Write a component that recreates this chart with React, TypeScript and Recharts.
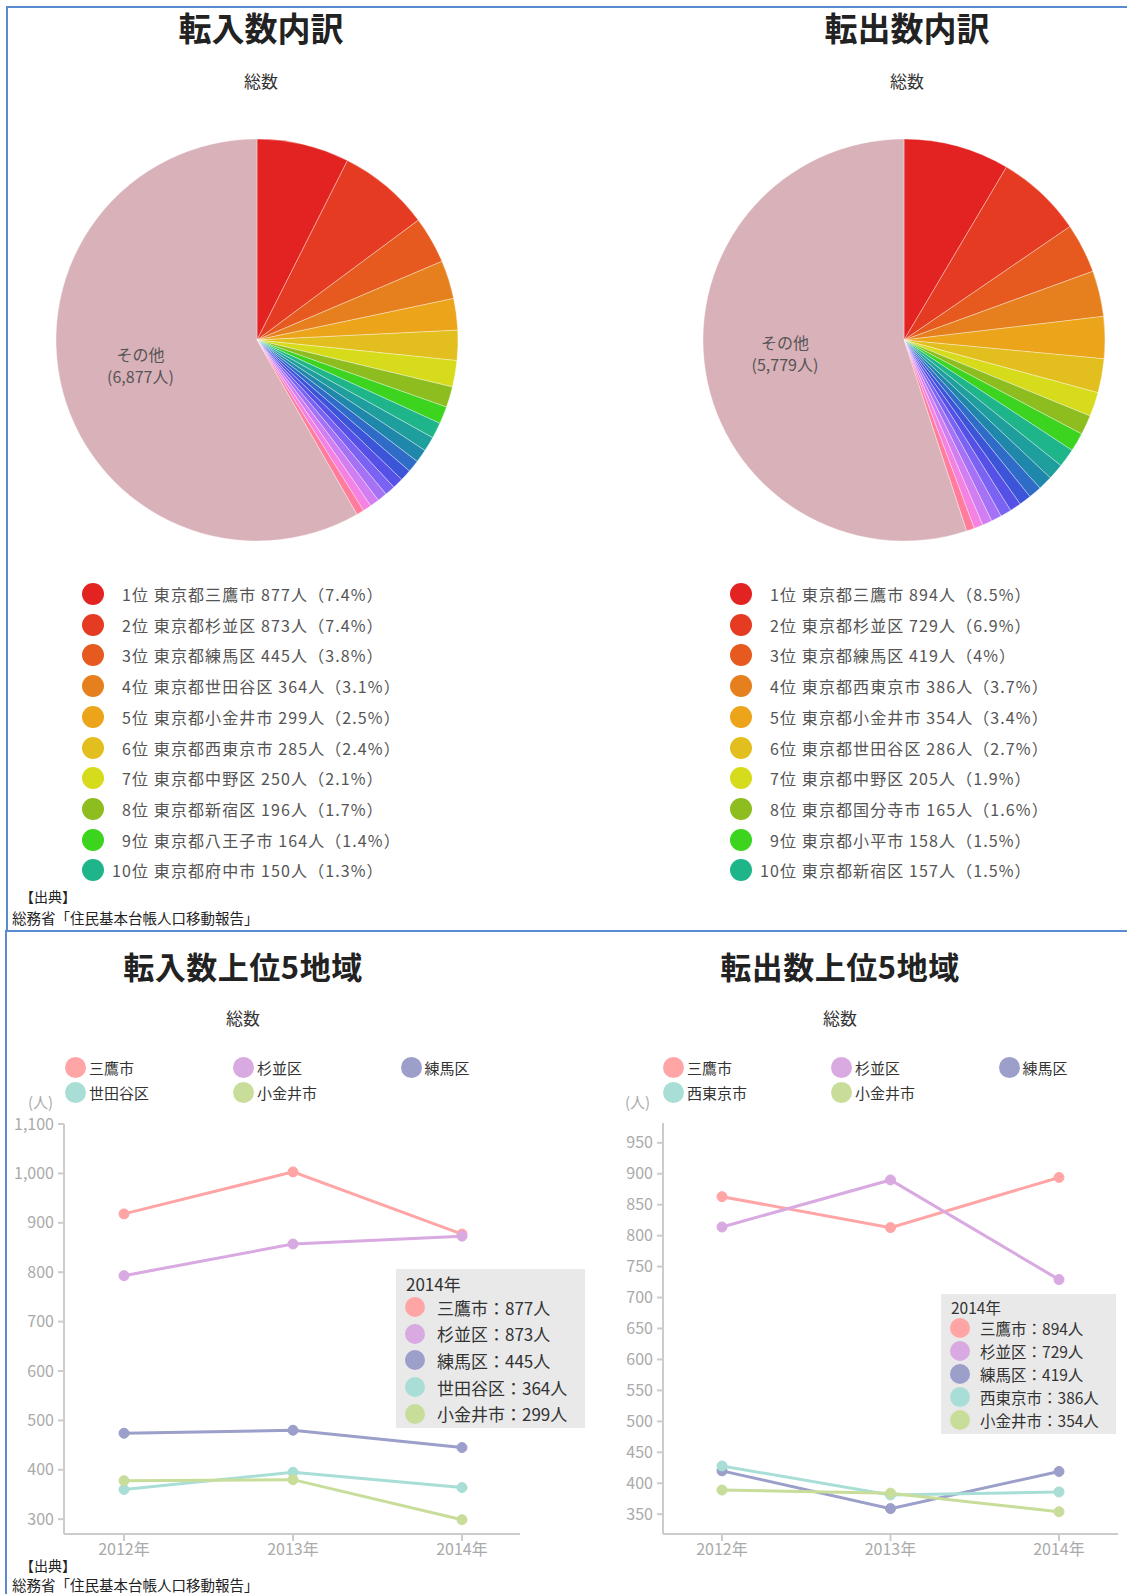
import React from "react";
import { PieChart, Pie, Cell, LineChart, Line, XAxis, YAxis } from "recharts";

const FONT = '"Noto Sans CJK JP", "Noto Sans", sans-serif';

// 転入数内訳
const inNames = ["東京都三鷹市", "東京都杉並区", "東京都練馬区", "東京都世田谷区", "東京都小金井市", "東京都西東京市", "東京都中野区", "東京都新宿区", "東京都八王子市", "東京都府中市"];
const inValues = [877, 873, 445, 364, 299, 285, 250, 196, 164, 150];
const inShares = ["7.4", "7.4", "3.8", "3.1", "2.5", "2.4", "2.1", "1.7", "1.4", "1.3"];
const inMinor = [140, 125, 115, 108, 102, 98, 92, 88, 80, 72];
const inOther = 6877;

// 転出数内訳
const outNames = ["東京都三鷹市", "東京都杉並区", "東京都練馬区", "東京都西東京市", "東京都小金井市", "東京都世田谷区", "東京都中野区", "東京都国分寺市", "東京都小平市", "東京都新宿区"];
const outValues = [894, 729, 419, 386, 354, 286, 205, 165, 158, 157];
const outShares = ["8.5", "6.9", "4", "3.7", "3.4", "2.7", "1.9", "1.6", "1.5", "1.5"];
const outMinor = [135, 120, 110, 102, 96, 92, 88, 82, 75, 68];
const outOther = 5779;

const sliceColors = [
  "#e32222", "#e53b22", "#e65a20", "#e6801e", "#eca41a", "#e2bf1f", "#d6dc1c", "#8dbd1e", "#3dd420", "#1fb58a",
  "#1e9e9c", "#1f87aa", "#2e6cc8", "#3c55d8", "#5550e6", "#7a62f2", "#a572f6", "#d07ef2", "#f482e2", "#ff7c9c",
];
const otherColor = "#d9b1b9";

// 上位5地域 推移
const years = ["2012年", "2013年", "2014年"];
const inSeriesNames = ["三鷹市", "杉並区", "練馬区", "世田谷区", "小金井市"];
const inMitaka = [918, 1003, 877];
const inSuginami = [793, 857, 873];
const inNerima = [474, 480, 445];
const inSetagaya = [360, 395, 364];
const inKoganei = [378, 380, 299];
const inTicks = [300, 400, 500, 600, 700, 800, 900, 1000, 1100];

const outSeriesNames = ["三鷹市", "杉並区", "練馬区", "西東京市", "小金井市"];
const outMitaka = [863, 813, 894];
const outSuginami = [814, 890, 729];
const outNerima = [420, 359, 419];
const outNishitokyo = [428, 381, 386];
const outKoganei = [389, 384, 354];
const outTicks = [350, 400, 450, 500, 550, 600, 650, 700, 750, 800, 850, 900, 950];

const lineColors = ["#ffa5a5", "#d9a9e1", "#9b9fc9", "#a9ded6", "#c9dd9a"];

const pieRows = (names: string[], values: number[], minor: number[], other: number) => [
  ...names.map((n, i) => ({ name: n, value: values[i] })),
  ...minor.map((v, i) => ({ name: `${i + 11}位`, value: v })),
  { name: "その他", value: other },
];

const lineRows = (series: number[][]) =>
  years.map((y, i) => ({ year: y, s0: series[0][i], s1: series[1][i], s2: series[2][i], s3: series[3][i], s4: series[4][i] }));

const abs = (left: number, top: number, extra: React.CSSProperties = {}): React.CSSProperties => ({
  position: "absolute",
  left,
  top,
  ...extra,
});

function CenterText({ x, y, size, bold, color, spacing, children }: { x: number; y: number; size: number; bold?: boolean; color?: string; spacing?: number; children: React.ReactNode }) {
  return (
    <div style={{ position: "absolute", left: x - 200, top: y - size * 0.7, width: 400, textAlign: "center", fontSize: size, fontWeight: bold ? 700 : 400, color: color || "#222", lineHeight: `${size * 1.4}px`, letterSpacing: spacing || 0, whiteSpace: "nowrap" }}>
      {children}
    </div>
  );
}

function PieBlock({ left, cx, rows }: { left: number; cx: number; rows: { name: string; value: number }[] }) {
  const renderLabel = (p: any) => {
    if (p.name !== "その他") return null;
    const R = Math.PI / 180;
    const r = p.outerRadius * 0.6;
    const x = p.cx + r * Math.cos(-p.midAngle * R);
    const y = p.cy + r * Math.sin(-p.midAngle * R);
    return (
      <text x={x} y={y} textAnchor="middle" fill="#555" fontSize={16} fontFamily={FONT}>
        <tspan x={x} dy={-10}>その他</tspan>
        <tspan x={x} dy={22}>({p.value.toLocaleString("en-US")}人)</tspan>
      </text>
    );
  };
  return (
    <div style={abs(left, 0)}>
      <PieChart width={560} height={560} margin={{ top: 0, right: 0, bottom: 0, left: 0 }}>
        <Pie
          data={rows}
          dataKey="value"
          nameKey="name"
          cx={cx}
          cy={340}
          outerRadius={201}
          startAngle={90}
          endAngle={-270}
          stroke="rgba(255,255,255,0.35)"
          strokeWidth={1}
          label={renderLabel}
          labelLine={false}
          isAnimationActive={false}
        >
          {rows.map((r, i) => (
            <Cell key={i} fill={r.name === "その他" ? otherColor : sliceColors[i]} />
          ))}
        </Pie>
      </PieChart>
    </div>
  );
}

function PieLegend({ x, names, values, shares }: { x: number; names: string[]; values: number[]; shares: string[] }) {
  return (
    <>
      {names.map((n, i) => {
        const cy = 594 + i * 30.7;
        return (
          <div key={i} style={abs(x - 11, cy - 12, { height: 24, display: "flex", alignItems: "center", fontSize: 16, color: "#555", letterSpacing: 1.1, whiteSpace: "nowrap" })}>
            <span style={{ width: 22, height: 22, borderRadius: 11, background: sliceColors[i], display: "inline-block" }} />
            <span style={{ width: 28, textAlign: "right", display: "inline-block" }}>{i + 1}</span>
            <span>位 {n} {values[i]}人（{shares[i]}%）</span>
          </div>
        );
      })}
    </>
  );
}

function LineLegend({ x0, names }: { x0: number; names: string[] }) {
  const cols = [0, 168, 335.5];
  return (
    <>
      {names.map((n, i) => {
        const cx = x0 + cols[i % 3];
        const cy = i < 3 ? 1067 : 1092.5;
        return (
          <div key={i} style={abs(cx - 10, cy - 11, { height: 22, display: "flex", alignItems: "center", fontSize: 15, color: "#333", whiteSpace: "nowrap" })}>
            <span style={{ width: 21, height: 21, borderRadius: 11, background: lineColors[i], display: "inline-block", marginRight: 3 }} />
            <span>{n}</span>
          </div>
        );
      })}
    </>
  );
}

function LineBlock({ left, width, marginTop, marginRight, padL, padR, domain, ticks, data }: { left: number; width: number; marginTop: number; marginRight: number; padL: number; padR: number; domain: [number, number]; ticks: number[]; data: any[] }) {
  return (
    <div style={abs(left, 1100)}>
      <LineChart width={width} height={470} data={data} margin={{ top: marginTop, right: marginRight, bottom: 6, left: 8 }}>
        <XAxis
          dataKey="year"
          padding={{ left: padL, right: padR }}
          axisLine={{ stroke: "#ccc", strokeWidth: 2 }}
          tickLine={{ stroke: "#ccc", strokeWidth: 2 }}
          tickSize={7}
          tickMargin={3}
          tick={{ fill: "#aaa", fontSize: 16, fontFamily: FONT }}
          height={30}
        />
        <YAxis
          type="number"
          domain={domain}
          ticks={ticks}
          allowDataOverflow
          width={56}
          axisLine={{ stroke: "#ccc", strokeWidth: 2 }}
          tickLine={{ stroke: "#ccc", strokeWidth: 2 }}
          tickSize={6}
          tickMargin={4}
          tickFormatter={(v: number) => v.toLocaleString("en-US")}
          tick={{ fill: "#aaa", fontSize: 16, fontFamily: FONT }}
        />
        {["s0", "s1", "s2", "s3", "s4"].map((k, i) => (
          <Line
            key={k}
            dataKey={k}
            type="linear"
            stroke={lineColors[i]}
            strokeWidth={3}
            dot={{ r: 5, fill: lineColors[i], stroke: lineColors[i], strokeWidth: 1 }}
            isAnimationActive={false}
          />
        ))}
      </LineChart>
    </div>
  );
}

function YearBox({ left, top, width, height, fontSize, rowStart, rowGap, gap, names, series }: { left: number; top: number; width: number; height: number; fontSize: number; rowStart: number; rowGap: number; gap: number; names: string[]; series: number[][] }) {
  return (
    <div style={abs(left, top, { width, height, background: "#e9e9e9" })}>
      <div style={abs(10, 2, { fontSize, color: "#333", whiteSpace: "nowrap" })}>{years[2]}</div>
      {names.map((n, i) => (
        <div key={i} style={abs(9, rowStart + i * rowGap - 10, { height: 20, display: "flex", alignItems: "center", fontSize, color: "#333", whiteSpace: "nowrap" })}>
          <span style={{ width: 20, height: 20, borderRadius: 10, background: lineColors[i], display: "inline-block", marginRight: gap }} />
          <span>{n}：{series[i][2]}人</span>
        </div>
      ))}
    </div>
  );
}

export default function App() {
  const inRows = pieRows(inNames, inValues, inMinor, inOther);
  const outRows = pieRows(outNames, outValues, outMinor, outOther);
  const inSeries = [inMitaka, inSuginami, inNerima, inSetagaya, inKoganei];
  const outSeries = [outMitaka, outSuginami, outNerima, outNishitokyo, outKoganei];
  const border = "#5a8ad0";
  return (
    <div style={{ position: "absolute", left: 0, top: 0, width: 1127, height: 1594, background: "#fff", overflow: "hidden", fontFamily: FONT }}>
      <div style={abs(6, 6, { width: 1130, height: 922, borderLeft: `2px solid ${border}`, borderTop: `2px solid ${border}`, borderBottom: `2px solid ${border}` })} />
      <div style={abs(5, 930, { width: 2, height: 664, background: border })} />

      <CenterText x={261} y={27} size={33} bold>転入数内訳</CenterText>
      <CenterText x={907} y={27} size={33} bold>転出数内訳</CenterText>
      <CenterText x={261} y={81} size={17} color="#333">総数</CenterText>
      <CenterText x={907} y={81} size={17} color="#333">総数</CenterText>

      <PieBlock left={0} cx={257} rows={inRows} />
      <PieBlock left={560} cx={344} rows={outRows} />
      <PieLegend x={93} names={inNames} values={inValues} shares={inShares} />
      <PieLegend x={741} names={outNames} values={outValues} shares={outShares} />

      <div style={abs(20, 885, { fontSize: 14, color: "#222", lineHeight: "22px" })}>【出典】</div>
      <div style={abs(12, 907, { fontSize: 14.5, color: "#222", lineHeight: "22px", whiteSpace: "nowrap" })}>総務省「住民基本台帳人口移動報告」</div>

      <CenterText x={243} y={966} size={31} bold spacing={0.5}>転入数上位5地域</CenterText>
      <CenterText x={840} y={966} size={31} bold spacing={0.5}>転出数上位5地域</CenterText>
      <CenterText x={243} y={1018} size={17} color="#333">総数</CenterText>
      <CenterText x={840} y={1018} size={17} color="#333">総数</CenterText>

      <LineLegend x0={75} names={inSeriesNames} />
      <LineLegend x0={673} names={outSeriesNames} />

      <div style={abs(28, 1094, { fontSize: 15, color: "#aaa", lineHeight: "15px", whiteSpace: "nowrap" })}>(人)</div>
      <div style={abs(625, 1094, { fontSize: 15, color: "#aaa", lineHeight: "15px", whiteSpace: "nowrap" })}>(人)</div>

      <LineBlock left={0} width={547} marginTop={24} marginRight={27} padL={60} padR={58} domain={[270, 1100]} ticks={inTicks} data={lineRows(inSeries)} />
      <LineBlock left={599} width={527} marginTop={23} marginRight={8} padL={59} padR={59} domain={[318, 982]} ticks={outTicks} data={lineRows(outSeries)} />

      <YearBox left={396} top={1269} width={189} height={159} fontSize={17} rowStart={38} rowGap={26.7} gap={12} names={inSeriesNames} series={inSeries} />
      <YearBox left={941} top={1294} width={175} height={140} fontSize={15.5} rowStart={34} rowGap={23.1} gap={10} names={outSeriesNames} series={outSeries} />

      <div style={abs(20, 1554, { fontSize: 14, color: "#222", lineHeight: "22px" })}>【出典】</div>
      <div style={abs(12, 1574, { fontSize: 14.5, color: "#222", lineHeight: "22px", whiteSpace: "nowrap" })}>総務省「住民基本台帳人口移動報告」</div>
    </div>
  );
}
